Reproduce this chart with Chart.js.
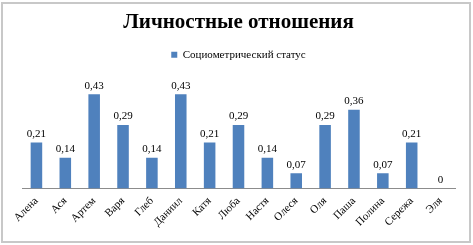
<!DOCTYPE html>
<html>
<head>
<meta charset="utf-8">
<script src="https://cdn.jsdelivr.net/npm/chart.js@4"></script>
<style>
  html, body { margin: 0; padding: 0; background: #fff; }
  #wrap { position: relative; width: 473px; height: 245px; }
  #frame { position: absolute; left: 1px; top: 2px; width: 466px; height: 237px;
           border: 2px solid #c8c8c8; pointer-events: none; }
</style>
</head>
<body>
<div id="wrap">
  <canvas id="chart" width="473" height="245"></canvas>
  <div id="frame"></div>
</div>
<script>
// категории
const names = ['Алена','Ася','Артем','Варя','Глеб','Даниил','Катя','Люба','Настя','Олеся','Оля','Паша','Полина','Сережа','Эля'];
// значения
const status = [0.21, 0.14, 0.43, 0.29, 0.14, 0.43, 0.21, 0.29, 0.14, 0.07, 0.29, 0.36, 0.07, 0.21, 0];

const serif = '"Liberation Serif", "Times New Roman", serif';

// подписи над столбцами
const valueLabels = {
    id: 'valueLabels',
    afterDatasetsDraw(chart) {
        const ctx = chart.ctx;
        ctx.save();
        ctx.font = '11px ' + serif;
        ctx.fillStyle = '#000';
        ctx.textAlign = 'center';
        ctx.textBaseline = 'bottom';
        chart.getDatasetMeta(0).data.forEach((bar, i) => {
            const txt = String(status[i]).replace('.', ',');
            ctx.fillText(txt, bar.x, bar.y - 3);
        });
        ctx.restore();
    }
};

var ctx = document.getElementById('chart').getContext('2d');
var myChart = new Chart(ctx, {
    type: 'bar',
    data: {
        labels: names,
        datasets: [{
            label: 'Социометрический статус',
            data: status,
            backgroundColor: '#4f81bd',
            borderWidth: 0,
            barPercentage: 0.4,
            categoryPercentage: 1
        }]
    },
    options: {
        responsive: false,
        animation: false,
        layout: { padding: { left: 22, right: 18, top: 6, bottom: 10 } },
        plugins: {
            title: {
                display: true,
                text: 'Личностные отношения',
                color: '#000',
                font: { family: serif, size: 21, weight: 'bold' },
                padding: { top: 4, bottom: 8 }
            },
            legend: {
                display: true,
                labels: {
                    color: '#000',
                    font: { family: serif, size: 11 },
                    boxWidth: 6,
                    boxHeight: 6,
                    padding: 6
                }
            },
            tooltip: { enabled: false }
        },
        scales: {
            x: {
                grid: { display: false, drawTicks: false },
                border: { color: '#8c8c8c' },
                ticks: {
                    color: '#000',
                    font: { family: serif, size: 11 },
                    minRotation: 45,
                    maxRotation: 45,
                    padding: 6
                }
            },
            y: {
                display: false,
                min: 0,
                max: 0.54
            }
        }
    },
    plugins: [valueLabels]
});
</script>
</body>
</html>
